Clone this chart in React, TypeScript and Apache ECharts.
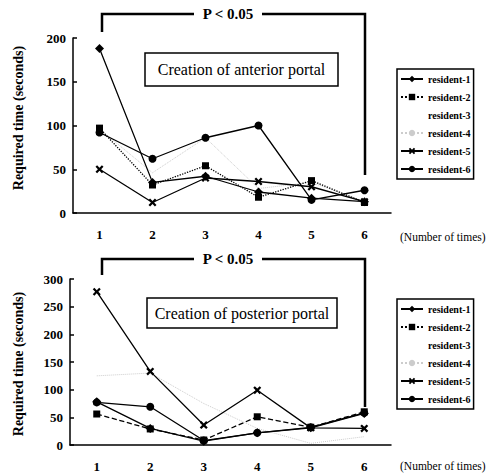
import React, { useEffect, useRef } from "react";
import * as echarts from "echarts";

const categories = ["1", "2", "3", "4", "5", "6"];
const residentNames = ["resident-1", "resident-2", "resident-3", "resident-4", "resident-5", "resident-6"];

// Creation of anterior portal (seconds)
const anteriorR1 = [188, 35, 42, 24, 17, 13];
const anteriorR2 = [97, 32, 54, 18, 37, 12];
const anteriorR3 = [90, 40, 45, 30, 25, 15];
const anteriorR4 = [96, 46, 86, 28, 35, 13];
const anteriorR5 = [50, 12, 40, 36, 30, 13];
const anteriorR6 = [92, 62, 86, 100, 15, 26];

// Creation of posterior portal (seconds)
const posteriorR1 = [78, 30, 7, 22, 31, 57];
const posteriorR2 = [56, 29, 9, 51, 32, 60];
const posteriorR3 = [70, 40, 15, 30, 30, 40];
const posteriorR4 = [125, 130, 75, 30, 3, 15];
const posteriorR5 = [277, 133, 36, 99, 31, 30];
const posteriorR6 = [77, 69, 8, 22, 32, 58];

const anteriorTicks = { max: 200, interval: 50 };
const posteriorTicks = { max: 300, interval: 50 };

const X_PATH = "path://M0,2L2,0L5,3L8,0L10,2L7,5L10,8L8,10L5,7L2,10L0,8L3,5Z";
const SERIF = "'Liberation Serif', 'DejaVu Serif', serif";

function styleFor(i: number, dash2: string) {
  const base = {
    symbolSize: 8,
    lineStyle: { color: "#000", width: 1.3, type: "solid" as any },
    itemStyle: { color: "#000" },
    z: 3,
  } as any;
  if (i === 0) return { ...base, symbol: "diamond", symbolSize: 9 };
  if (i === 1) return { ...base, symbol: "rect", symbolSize: 7, lineStyle: { ...base.lineStyle, type: dash2 } };
  if (i === 2)
    return { ...base, symbol: "none", lineStyle: { color: "#ffffff", width: 1 }, itemStyle: { color: "#ffffff" }, z: 1 };
  if (i === 3)
    return { ...base, symbol: "none", lineStyle: { color: "#cccccc", width: 1, type: "dotted" }, itemStyle: { color: "#cccccc" }, z: 2 };
  if (i === 4) return { ...base, symbol: X_PATH, symbolSize: 8 };
  return { ...base, symbol: "circle", symbolSize: 8 };
}

function buildSeries(sets: number[][], axisIndex: number, dash2: string) {
  return sets.map((d, i) => ({
    type: "line",
    name: residentNames[i],
    xAxisIndex: axisIndex,
    yAxisIndex: axisIndex,
    data: d,
    ...styleFor(i, dash2),
  }));
}

function xAxisDef(gridIndex: number) {
  return {
    type: "category",
    gridIndex,
    data: categories,
    boundaryGap: true,
    axisLine: { lineStyle: { color: "#000", width: 1.5 } },
    axisTick: { inside: true, length: 4, lineStyle: { color: "#000", width: 1.5 } },
    axisLabel: { color: "#000", fontFamily: SERIF, fontWeight: "bold", fontSize: 13, margin: 15 },
    splitLine: { show: false },
  };
}

function yAxisDef(gridIndex: number, t: { max: number; interval: number }) {
  return {
    type: "value",
    gridIndex,
    min: 0,
    max: t.max,
    interval: t.interval,
    axisLine: { show: true, lineStyle: { color: "#000", width: 1.5 } },
    axisTick: { show: true, inside: true, length: 4, lineStyle: { color: "#000", width: 1.5 } },
    axisLabel: { color: "#000", fontFamily: SERIF, fontWeight: "bold", fontSize: 13, margin: 7 },
    splitLine: { show: false },
  };
}

function legendDef(top: number) {
  return {
    data: residentNames,
    orient: "vertical",
    left: 397,
    top,
    itemWidth: 22,
    itemHeight: 8,
    itemGap: 8,
    padding: [5, 3, 5, 3],
    borderColor: "#000",
    borderWidth: 1.5,
    backgroundColor: "#fff",
    selectedMode: false,
    textStyle: { color: "#000", fontFamily: SERIF, fontWeight: "bold", fontSize: 10 },
  };
}

function bracket(yLine: number, leftBottom: number, rightBottom: number) {
  const ls = { stroke: "#000", lineWidth: 2.5, fill: null };
  return [
    { type: "polyline", shape: { points: [[102, leftBottom], [102, yLine], [194, yLine]] }, style: ls },
    { type: "polyline", shape: { points: [[262, yLine], [365, yLine], [365, rightBottom]] }, style: ls },
    {
      type: "text",
      x: 228,
      y: yLine,
      style: { text: "P < 0.05", fill: "#000", font: `bold 15px ${SERIF}`, align: "center", verticalAlign: "middle" },
    },
  ];
}

function labelBox(x: number, y: number, w: number, h: number, text: string) {
  return [
    { type: "rect", shape: { x, y, width: w, height: h }, style: { fill: "#fff", stroke: "#000", lineWidth: 1.5 }, z: 10 },
    {
      type: "text",
      x: x + w / 2,
      y: y + h / 2,
      z: 11,
      style: { text, fill: "#000", font: `16px ${SERIF}`, align: "center", verticalAlign: "middle" },
    },
  ];
}

function yTitle(x: number, y: number) {
  return {
    type: "text",
    x,
    y,
    rotation: Math.PI / 2,
    style: {
      text: "Required time (seconds)",
      fill: "#000",
      font: `bold 14px ${SERIF}`,
      align: "center",
      verticalAlign: "middle",
    },
  };
}

function xTitle(x: number, y: number) {
  return {
    type: "text",
    x,
    y,
    style: { text: "(Number of times)", fill: "#000", font: `11.5px ${SERIF}`, align: "left", verticalAlign: "middle" },
  };
}

export default function App() {
  const ref = useRef<HTMLDivElement>(null);
  useEffect(() => {
    if (!ref.current) return;
    const chart = echarts.init(ref.current, undefined, { renderer: "svg" });
    chart.setOption({
      animation: false,
      backgroundColor: "#fff",
      grid: [
        { left: 73, top: 38, width: 318, height: 175 },
        { left: 70, top: 279, width: 321, height: 166 },
      ],
      xAxis: [xAxisDef(0), xAxisDef(1)],
      yAxis: [yAxisDef(0, anteriorTicks), yAxisDef(1, posteriorTicks)],
      legend: [legendDef(69), legendDef(299)],
      series: [
        ...buildSeries([anteriorR1, anteriorR2, anteriorR3, anteriorR4, anteriorR5, anteriorR6], 0, "dotted"),
        ...buildSeries([posteriorR1, posteriorR2, posteriorR3, posteriorR4, posteriorR5, posteriorR6], 1, "dashed"),
      ],
      graphic: [
        ...bracket(14, 32, 175),
        ...bracket(259, 275, 407),
        ...labelBox(145, 53, 193, 33, "Creation of anterior portal"),
        ...labelBox(147, 298, 190, 30, "Creation of posterior portal"),
        yTitle(18, 118),
        yTitle(18, 364),
        xTitle(400, 237),
        xTitle(400, 466),
      ],
    });
    return () => chart.dispose();
  }, []);
  return <div ref={ref} style={{ position: "fixed", left: 0, top: 0, width: 498, height: 476 }} />;
}
